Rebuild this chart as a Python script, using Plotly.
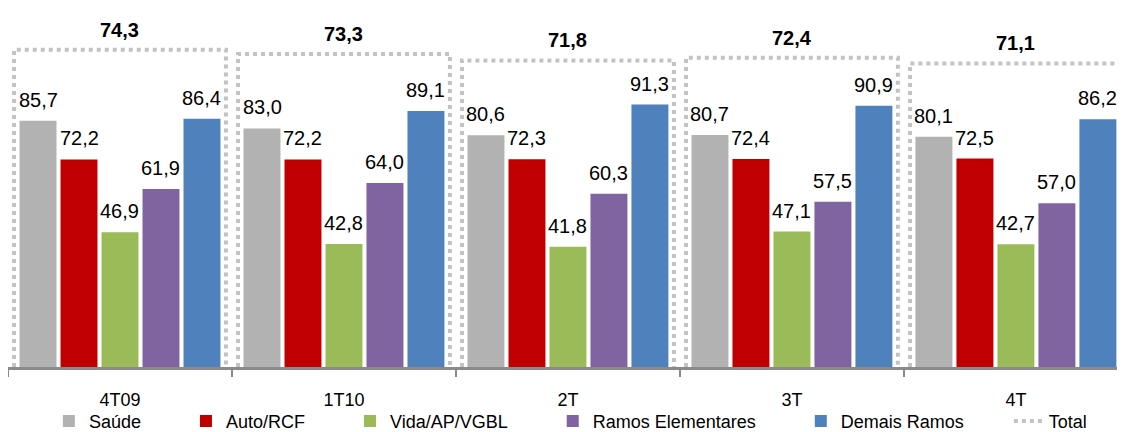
import plotly.graph_objects as go

# quarters and values (% )
quarters = ['4T09', '1T10', '2T', '3T', '4T']
saude = [85.7, 83.0, 80.6, 80.7, 80.1]
auto_rcf = [72.2, 72.2, 72.3, 72.4, 72.5]
vida = [46.9, 42.8, 41.8, 47.1, 42.7]
ramos_elem = [61.9, 64.0, 60.3, 57.5, 57.0]
demais = [86.4, 89.1, 91.3, 90.9, 86.2]
total = [74.3, 73.3, 71.8, 72.4, 71.1]

series = [
    ('Saúde', saude, '#b2b2b2'),
    ('Auto/RCF', auto_rcf, '#c00000'),
    ('Vida/AP/VGBL', vida, '#9bbb59'),
    ('Ramos Elementares', ramos_elem, '#8064a2'),
    ('Demais Ramos', demais, '#4f81bd'),
]

FONT = 'Arial, Liberation Sans, sans-serif'
PITCH = 0.183    # distance between bars inside a group (category units)
BAR_W = 0.165
BOX_HALF = 0.473
PAD = '\u00a0' * 8  # spacing between legend entries

fig = go.Figure()
annotations = []
idx = list(range(len(quarters)))

for j, (name, vals, color) in enumerate(series):
    xs = [i + (j - 2) * PITCH for i in idx]
    fig.add_trace(go.Bar(
        x=xs, y=vals, width=BAR_W, name=name + PAD,
        marker=dict(color=color, line=dict(width=0)),
    ))
    for x, v in zip(xs, vals):
        annotations.append(dict(
            x=x, y=v, xref='x', yref='y', yshift=21, showarrow=False,
            text=f'{v:.1f}'.replace('.', ','),
            font=dict(size=20, color='black', family=FONT),
        ))

# Total: dotted outline behind each group, on its own scale
bx, by = [], []
for i, v in zip(idx, total):
    bx += [i - BOX_HALF, i - BOX_HALF, i + BOX_HALF, i + BOX_HALF, None]
    by += [0, v, v, 0, None]
    annotations.append(dict(
        x=i, y=v, xref='x', yref='y2', yshift=20, showarrow=False,
        text=f'<b>{v:.1f}</b>'.replace('.', ','),
        font=dict(size=20, color='black', family=FONT),
    ))

fig.add_trace(go.Scatter(
    x=bx, y=by, yaxis='y2', mode='lines', name='Total',
    line=dict(color='#c3c3c3', width=4, dash='dot'),
))

# page body has an 8px margin, so the figure is 8px smaller than the window
fig.update_layout(
    width=1117, height=424,
    margin=dict(l=0, r=0, t=2, b=65, autoexpand=False),
    paper_bgcolor='white', plot_bgcolor='white',
    barmode='overlay',
    font=dict(family=FONT, size=18, color='black'),
    showlegend=True,
    legend=dict(orientation='h', x=0.0366, xanchor='left', y=-0.1, yanchor='top',
                font=dict(size=18), itemwidth=30, bgcolor='rgba(0,0,0,0)',
                tracegroupgap=0),
    xaxis=dict(
        range=[-0.5, 4.487], tickmode='array', tickvals=idx, ticktext=quarters,
        ticks='', showgrid=False, zeroline=False,
        showline=True, linecolor='#8a8a8a', linewidth=3,
        ticklabelstandoff=14, tickfont=dict(size=18),
        minor=dict(tickmode='array', tickvals=[i - 0.5 for i in range(len(quarters) + 1)],
                   ticks='outside', ticklen=7, tickwidth=2, tickcolor='#8a8a8a', showgrid=False),
    ),
    yaxis=dict(range=[0, 124.2], visible=False, showgrid=False, zeroline=False),
    yaxis2=dict(range=[0, 83.6], overlaying='y', visible=False, showgrid=False, zeroline=False),
    annotations=annotations,
)

fig.write_html('out.html')
